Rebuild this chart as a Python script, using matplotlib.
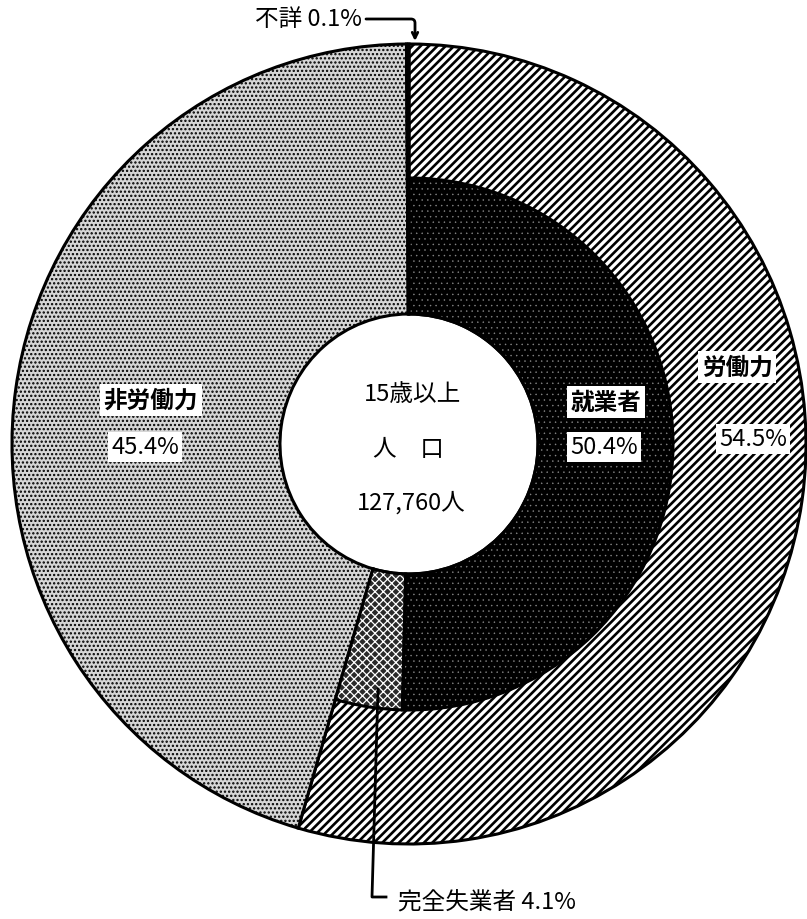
import matplotlib.pyplot as plt

plt.rcParams['font.family'] = ['Noto Sans CJK JP', 'DejaVu Sans']
plt.rcParams['hatch.linewidth'] = 1.0

# 15歳以上人口の労働力状態 (%)
outer_labels = ['労働力', '非労働力', '不詳']
outer_pct = [54.5, 45.4, 0.1]
inner_labels = ['就業者', '完全失業者']
inner_pct = [50.4, 4.1]
total_pop = '127,760'

W, H = 807, 920
cx, cy, sx, sy = 409, 445, 397, 400


def px(x, y):
    # pixel position in the picture -> data coords
    return (x - cx) / sx, (cy - y) / sy


def hatch_lw(patch, lw):
    if hasattr(patch, 'set_hatch_linewidth'):
        patch.set_hatch_linewidth(lw)


fig = plt.figure(figsize=(W / 100, H / 100), dpi=100)
ax = fig.add_axes([0, 0, 1, 1])

r_hole = 0.325
r_mid = 0.665

# outer ring (runs down to the centre hole)
outer, _ = ax.pie(outer_pct, startangle=90, counterclock=False, radius=1.0,
                  wedgeprops=dict(width=1 - r_hole, linewidth=2.2, edgecolor='black'))
outer[0].set_facecolor('white')
outer[0].set_hatch('////')
hatch_lw(outer[0], 1.9)
outer[1].set_facecolor('#d6d6d6')
outer[1].set_hatch('....')
hatch_lw(outer[1], 1.1)
outer[2].set_facecolor('white')

# inner ring for the labour force
inner_vals = inner_pct + [outer_pct[1] + outer_pct[2]]
inner, _ = ax.pie(inner_vals, startangle=90, counterclock=False, radius=r_mid,
                  wedgeprops=dict(width=r_mid - r_hole, linewidth=0))
inner[0].set_facecolor('black')
inner[0].set_edgecolor('#8a8a8a')
inner[0].set_linewidth(0)
inner[0].set_hatch('...')
hatch_lw(inner[0], 0.3)
inner[1].set_facecolor('#2a2a2a')
inner[1].set_edgecolor('white')
inner[1].set_linewidth(0)
inner[1].set_hatch('xxxx')
hatch_lw(inner[1], 0.9)
inner[2].set_visible(False)
lines, _ = ax.pie(inner_vals, startangle=90, counterclock=False, radius=r_mid,
                  wedgeprops=dict(width=r_mid - r_hole, linewidth=2.2,
                                  edgecolor='black', fill=False))
lines[2].set_visible(False)

ax.set_aspect('auto')
ax.set_xlim(-cx / sx, (W - cx) / sx)
ax.set_ylim(-(H - cy) / sy, cy / sy)
ax.axis('off')

box = dict(facecolor='white', edgecolor='none', pad=2.5)
fs = 17

ax.text(*px(151, 401), outer_labels[1], fontsize=fs, fontweight='bold',
        ha='center', va='center', bbox=box)
ax.text(*px(145, 448), f'{outer_pct[1]}%', fontsize=fs, ha='center', va='center', bbox=box)
ax.text(*px(606, 403), inner_labels[0], fontsize=fs, fontweight='bold',
        ha='center', va='center', bbox=box)
ax.text(*px(604, 448), f'{inner_pct[0]}%', fontsize=fs, ha='center', va='center', bbox=box)
ax.text(*px(737, 368), outer_labels[0], fontsize=fs, fontweight='bold',
        ha='center', va='center', bbox=box)
ax.text(*px(753, 440), f'{outer_pct[0]}%', fontsize=fs, ha='center', va='center', bbox=box)

# centre
ax.text(*px(412, 395), '15歳以上', fontsize=fs, ha='center', va='center')
ax.text(*px(408, 450), '人　口', fontsize=fs, ha='center', va='center')
ax.text(*px(411, 503), f'{total_pop}人', fontsize=fs, ha='center', va='center')

# 不詳 callout
ax.text(*px(362, 20), f'{outer_labels[2]} {outer_pct[2]}%', fontsize=fs,
        ha='right', va='center')
ax.annotate('', xy=px(415, 42), xytext=px(366, 20),
            arrowprops=dict(arrowstyle='->', lw=2, color='black', shrinkA=0, shrinkB=0,
                            connectionstyle='angle,angleA=0,angleB=90,rad=4'))

# 完全失業者 callout
p1, p2, p3 = px(378, 690), px(372, 898), px(386, 898)
ax.plot([p1[0], p2[0], p3[0]], [p1[1], p2[1], p3[1]], color='black', lw=2)
ax.text(*px(398, 903), f'{inner_labels[1]} {inner_pct[1]}%', fontsize=fs,
        ha='left', va='center')

fig.savefig('out.png', dpi=100)
